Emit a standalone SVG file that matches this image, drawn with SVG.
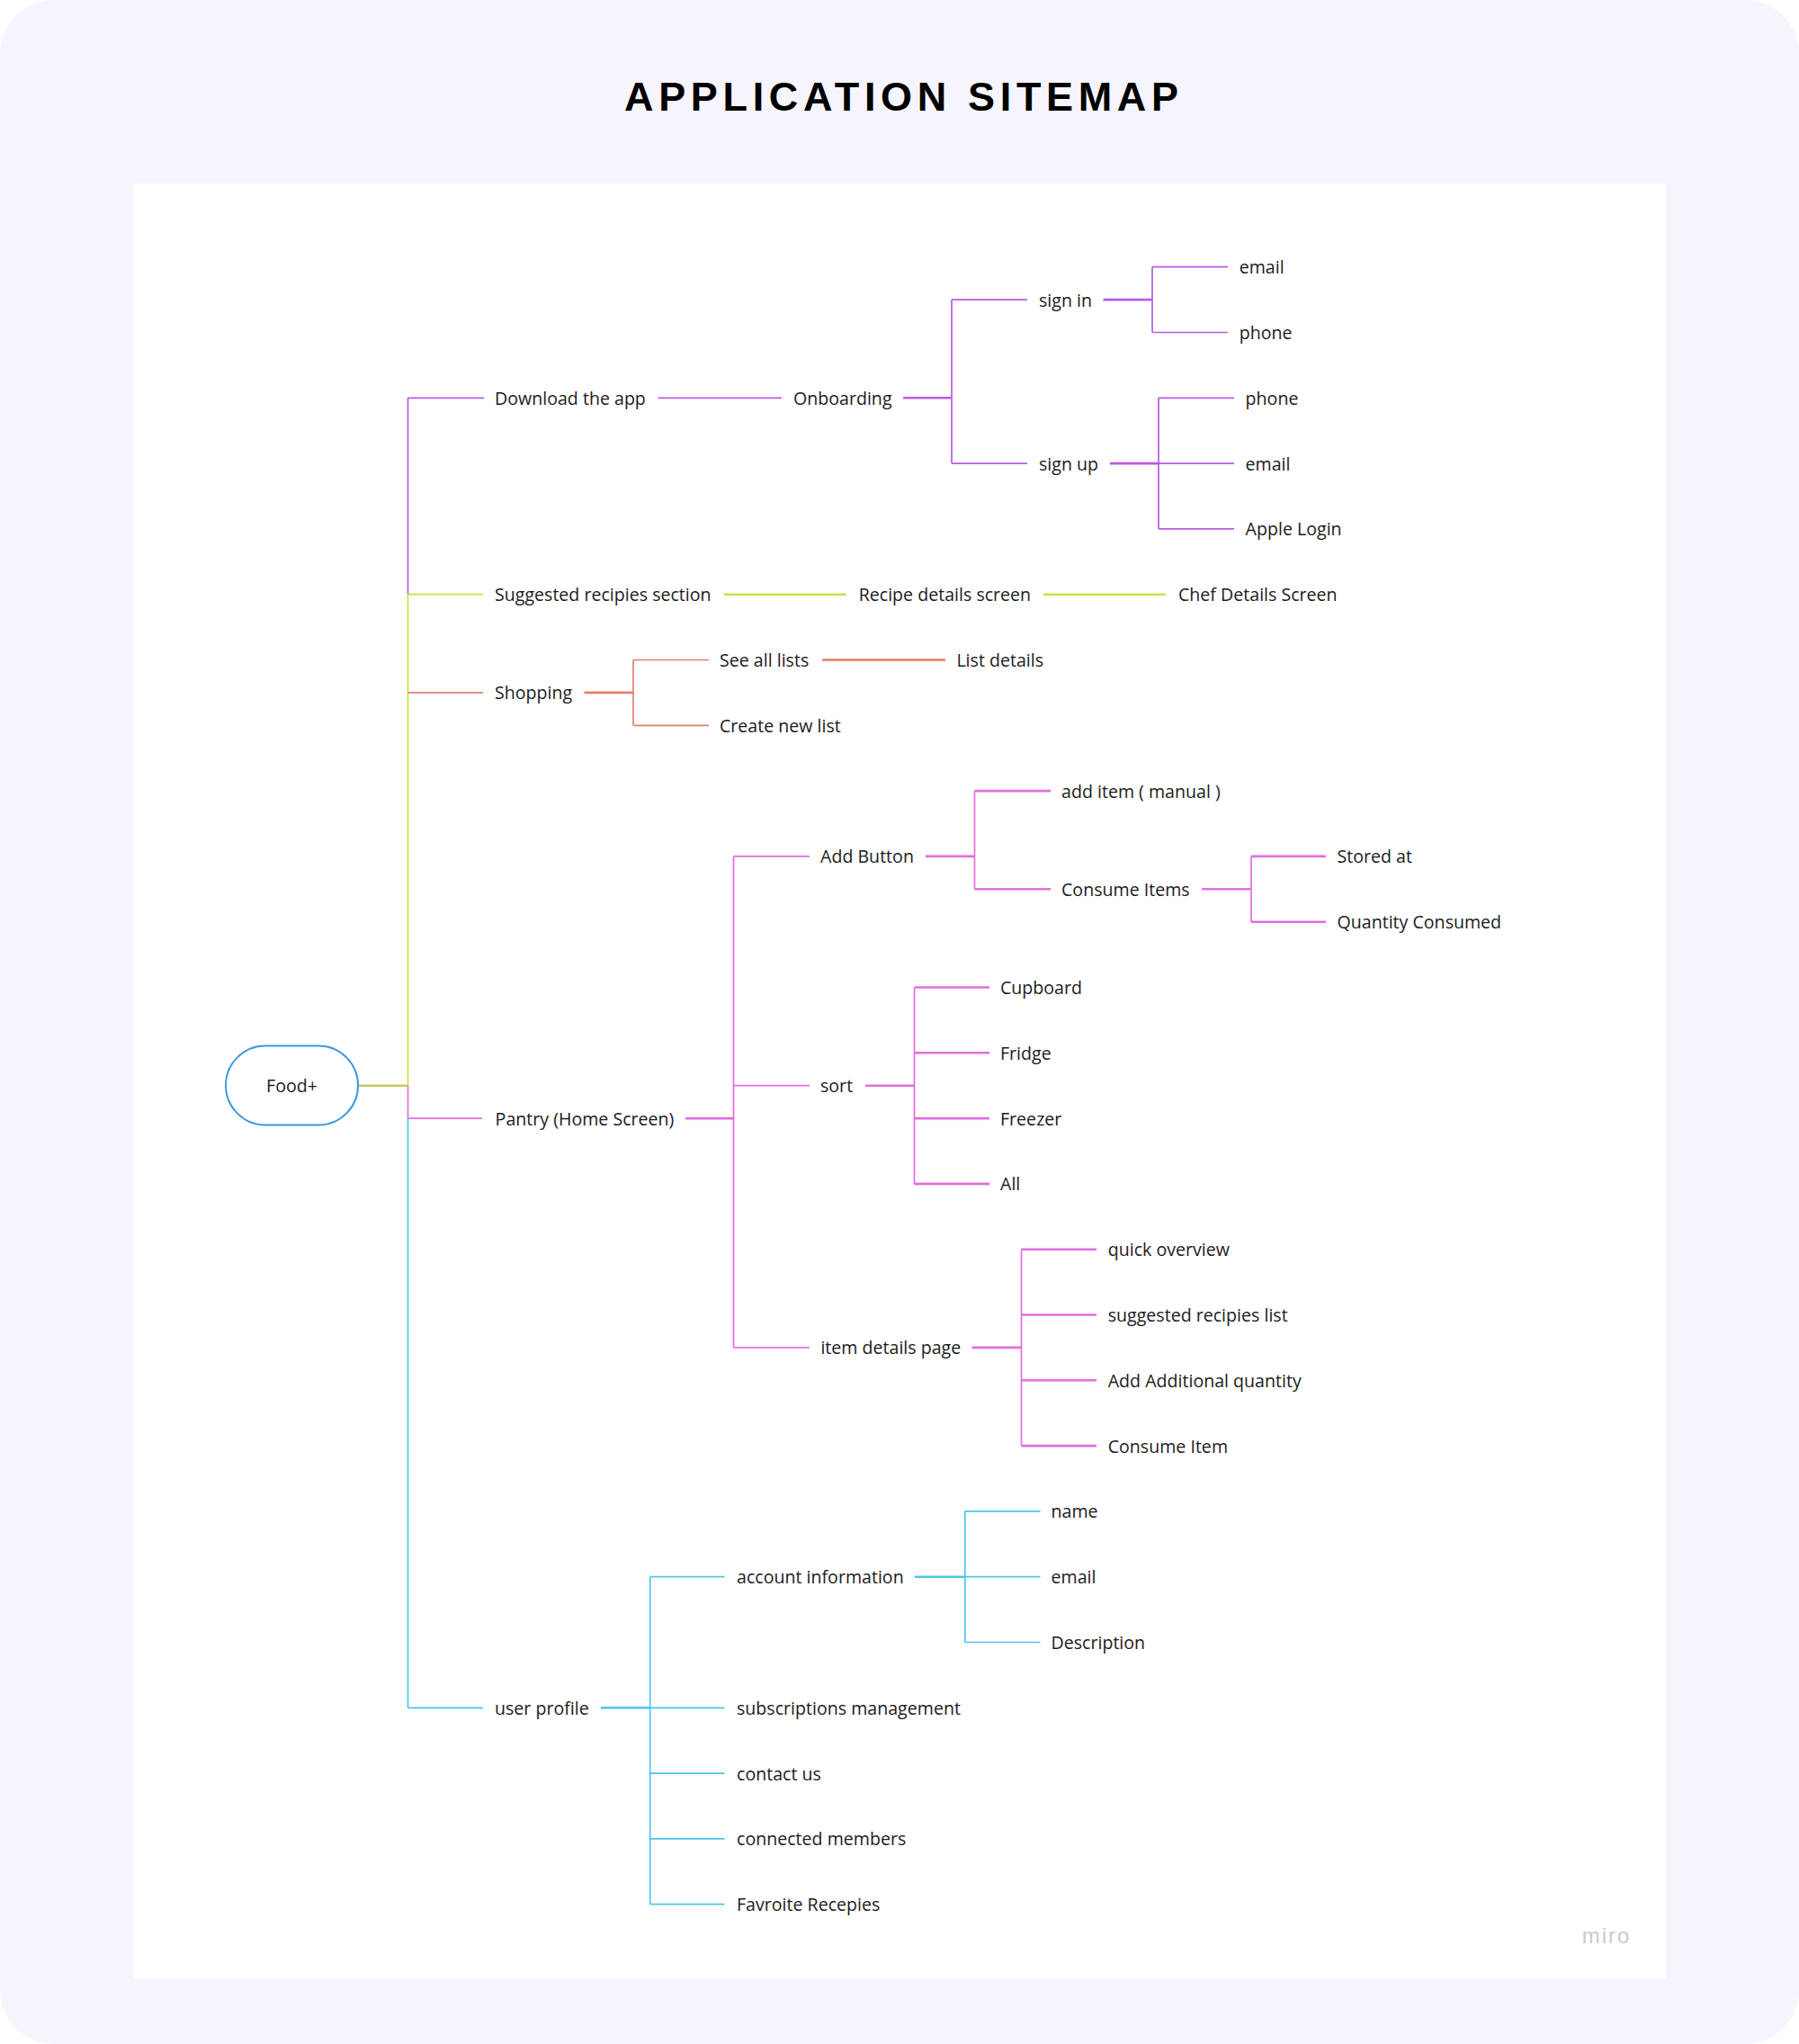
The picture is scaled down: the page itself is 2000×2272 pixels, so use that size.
<svg xmlns="http://www.w3.org/2000/svg" width="2000" height="2272" viewBox="0 0 2000 2272">
<style>
.t{font-family:"Open Sans","Liberation Sans",sans-serif;font-size:19.6px;fill:#1c1c1c}
.c line{fill:none;stroke-linecap:butt}
.pu{stroke:#B95BE6;stroke-width:1.7}
.ye{stroke:#C6E244;stroke-width:1.7}
.sa{stroke:#E47E6C;stroke-width:1.7}
.pk{stroke:#E26FDD;stroke-width:1.7}
.cy{stroke:#4EC6EA;stroke-width:1.7}
.th{stroke-width:2.6}
</style>
<rect x="0" y="0" width="2000" height="2272" fill="#ffffff"/>
<rect x="0" y="0" width="2000" height="2272" rx="60" fill="#F6F5FE"/>
<rect x="148" y="204" width="1704" height="1995" fill="#ffffff"/>
<text x="694" y="123" textLength="616" lengthAdjust="spacing" style="font-family:'Liberation Sans',Arial,sans-serif;font-weight:bold;font-size:45px;fill:#000">APPLICATION SITEMAP</text>
<text x="1786" y="2160" text-anchor="middle" style="font-family:'Liberation Sans',Arial,sans-serif;font-size:24px;fill:#c9c9ce;letter-spacing:2px">miro</text>

<g id="connectors" class="c">
<!-- purple -->
<line class="pu" x1="453.5" y1="442.3" x2="453.5" y2="660.7"/>
<line class="pu" x1="453.5" y1="442.3" x2="538" y2="442.3"/>
<line class="pu" x1="731.5" y1="442.3" x2="869" y2="442.3"/>
<line class="pu th" x1="1004" y1="442.3" x2="1058" y2="442.3"/>
<line class="pu" x1="1058" y1="333.1" x2="1058" y2="515.1"/>
<line class="pu" x1="1058" y1="333.1" x2="1142" y2="333.1"/>
<line class="pu" x1="1058" y1="515.1" x2="1142" y2="515.1"/>
<line class="pu th" x1="1226.5" y1="333.1" x2="1281" y2="333.1"/>
<line class="pu" x1="1281" y1="296.7" x2="1281" y2="369.5"/>
<line class="pu" x1="1281" y1="296.7" x2="1365" y2="296.7"/>
<line class="pu" x1="1281" y1="369.5" x2="1365" y2="369.5"/>
<line class="pu th" x1="1234" y1="515.1" x2="1288" y2="515.1"/>
<line class="pu" x1="1288" y1="442.3" x2="1288" y2="587.9"/>
<line class="pu" x1="1288" y1="442.3" x2="1372" y2="442.3"/>
<line class="pu" x1="1288" y1="515.1" x2="1372" y2="515.1"/>
<line class="pu" x1="1288" y1="587.9" x2="1372" y2="587.9"/>
<!-- yellow -->
<line class="ye" x1="453.5" y1="660.7" x2="453.5" y2="1206.7"/>
<line class="ye" x1="453.5" y1="660.7" x2="537" y2="660.7"/>
<line class="ye th" x1="805" y1="660.7" x2="940.5" y2="660.7"/>
<line class="ye th" x1="1160" y1="660.7" x2="1296" y2="660.7"/>
<line x1="398" y1="1206.7" x2="453.5" y2="1206.7" stroke="#C8C95C" stroke-width="2.6"/>
<!-- salmon -->
<line class="sa" x1="453.5" y1="769.9" x2="537" y2="769.9"/>
<line class="sa th" x1="649.5" y1="769.9" x2="704" y2="769.9"/>
<line class="sa" x1="704" y1="733.5" x2="704" y2="806.3"/>
<line class="sa" x1="704" y1="733.5" x2="788" y2="733.5"/>
<line class="sa" x1="704" y1="806.3" x2="788" y2="806.3"/>
<line class="sa th" x1="914" y1="733.5" x2="1051" y2="733.5"/>
<!-- pink -->
<line class="pk" x1="453.5" y1="1206.7" x2="453.5" y2="1243.1"/>
<line class="pk" x1="453.5" y1="1243.1" x2="536" y2="1243.1"/>
<line class="pk th" x1="762" y1="1243.1" x2="815.5" y2="1243.1"/>
<line class="pk" x1="815.5" y1="951.9" x2="815.5" y2="1497.9"/>
<line class="pk" x1="815.5" y1="951.9" x2="900" y2="951.9"/>
<line class="pk" x1="815.5" y1="1206.7" x2="900" y2="1206.7"/>
<line class="pk" x1="815.5" y1="1497.9" x2="900" y2="1497.9"/>
<line class="pk th" x1="1029" y1="951.9" x2="1083.5" y2="951.9"/>
<line class="pk" x1="1083.5" y1="879.1" x2="1083.5" y2="988.3"/>
<line class="pk th" x1="1083.5" y1="879.1" x2="1168" y2="879.1"/>
<line class="pk th" x1="1083.5" y1="988.3" x2="1168" y2="988.3"/>
<line class="pk th" x1="1336" y1="988.3" x2="1391" y2="988.3"/>
<line class="pk" x1="1391" y1="951.9" x2="1391" y2="1024.7"/>
<line class="pk th" x1="1391" y1="951.9" x2="1474" y2="951.9"/>
<line class="pk th" x1="1391" y1="1024.7" x2="1474" y2="1024.7"/>
<line class="pk th" x1="962" y1="1206.7" x2="1016.5" y2="1206.7"/>
<line class="pk" x1="1016.5" y1="1097.5" x2="1016.5" y2="1315.9"/>
<line class="pk th" x1="1016.5" y1="1097.5" x2="1100" y2="1097.5"/>
<line class="pk th" x1="1016.5" y1="1170.3" x2="1100" y2="1170.3"/>
<line class="pk th" x1="1016.5" y1="1243.1" x2="1100" y2="1243.1"/>
<line class="pk th" x1="1016.5" y1="1315.9" x2="1100" y2="1315.9"/>
<line class="pk th" x1="1080.5" y1="1497.9" x2="1135.5" y2="1497.9"/>
<line class="pk" x1="1135.5" y1="1388.7" x2="1135.5" y2="1607.1"/>
<line class="pk th" x1="1135.5" y1="1388.7" x2="1219" y2="1388.7"/>
<line class="pk th" x1="1135.5" y1="1461.5" x2="1219" y2="1461.5"/>
<line class="pk th" x1="1135.5" y1="1534.3" x2="1219" y2="1534.3"/>
<line class="pk th" x1="1135.5" y1="1607.1" x2="1219" y2="1607.1"/>
<!-- cyan -->
<line class="cy" x1="453.5" y1="1243.1" x2="453.5" y2="1898.3"/>
<line class="cy" x1="453.5" y1="1898.3" x2="537" y2="1898.3"/>
<line class="cy th" x1="668" y1="1898.3" x2="722.7" y2="1898.3"/>
<line class="cy" x1="722.7" y1="1898.3" x2="805.5" y2="1898.3"/>
<line class="cy" x1="722.7" y1="1752.7" x2="722.7" y2="2116.7"/>
<line class="cy" x1="722.7" y1="1752.7" x2="805.5" y2="1752.7"/>
<line class="cy" x1="722.7" y1="1971.1" x2="805.5" y2="1971.1"/>
<line class="cy" x1="722.7" y1="2043.9" x2="805.5" y2="2043.9"/>
<line class="cy" x1="722.7" y1="2116.7" x2="805.5" y2="2116.7"/>
<line class="cy th" x1="1017" y1="1752.7" x2="1072.8" y2="1752.7"/>
<line class="cy" x1="1072.8" y1="1752.7" x2="1156.5" y2="1752.7"/>
<line class="cy" x1="1072.8" y1="1679.9" x2="1072.8" y2="1825.5"/>
<line class="cy" x1="1072.8" y1="1679.9" x2="1156.5" y2="1679.9"/>
<line class="cy" x1="1072.8" y1="1825.5" x2="1156.5" y2="1825.5"/>
</g>

<g id="food"><rect x="251" y="1162.5" width="147" height="88" rx="44" fill="#fff" stroke="#3A98E0" stroke-width="2"/><text class="t" x="324.5" y="1214" text-anchor="middle">Food+</text></g>
<g id="download"><text class="t" x="550" y="449.8">Download the app</text></g>
<g id="onboarding"><text class="t" x="882" y="449.8">Onboarding</text></g>
<g id="signin"><text class="t" x="1155" y="340.6">sign in</text></g>
<g id="signin-email"><text class="t" x="1377.7" y="304.2">email</text></g>
<g id="signin-phone"><text class="t" x="1377.7" y="377">phone</text></g>
<g id="signup"><text class="t" x="1155" y="522.6">sign up</text></g>
<g id="signup-phone"><text class="t" x="1384.6" y="449.8">phone</text></g>
<g id="signup-email"><text class="t" x="1384.6" y="522.6">email</text></g>
<g id="signup-apple"><text class="t" x="1384.6" y="595.4">Apple Login</text></g>
<g id="suggested"><text class="t" x="550" y="668.2">Suggested recipies section</text></g>
<g id="recipe-details"><text class="t" x="954.7" y="668.2">Recipe details screen</text></g>
<g id="chef-details"><text class="t" x="1310" y="668.2">Chef Details Screen</text></g>
<g id="shopping"><text class="t" x="550" y="777.4">Shopping</text></g>
<g id="see-all-lists"><text class="t" x="800" y="741">See all lists</text></g>
<g id="list-details"><text class="t" x="1063.4" y="741">List details</text></g>
<g id="create-new-list"><text class="t" x="800" y="813.8">Create new list</text></g>
<g id="pantry"><text class="t" x="550.6" y="1250.6">Pantry (Home Screen)</text></g>
<g id="add-button"><text class="t" x="912" y="959.4">Add Button</text></g>
<g id="add-item"><text class="t" x="1180" y="886.6">add item ( manual )</text></g>
<g id="consume-items"><text class="t" x="1180" y="995.8">Consume Items</text></g>
<g id="stored-at"><text class="t" x="1486.5" y="959.4">Stored at</text></g>
<g id="quantity-consumed"><text class="t" x="1486.5" y="1032.2">Quantity Consumed</text></g>
<g id="sort"><text class="t" x="912" y="1214.2">sort</text></g>
<g id="cupboard"><text class="t" x="1112" y="1105">Cupboard</text></g>
<g id="fridge"><text class="t" x="1112" y="1177.8">Fridge</text></g>
<g id="freezer"><text class="t" x="1112" y="1250.6">Freezer</text></g>
<g id="all"><text class="t" x="1112" y="1323.4">All</text></g>
<g id="item-details"><text class="t" x="912.4" y="1505.4">item details page</text></g>
<g id="quick-overview"><text class="t" x="1231.7" y="1396.2">quick overview</text></g>
<g id="suggested-list"><text class="t" x="1231.7" y="1469">suggested recipies list</text></g>
<g id="add-quantity"><text class="t" x="1231.7" y="1541.8">Add Additional quantity</text></g>
<g id="consume-item"><text class="t" x="1231.7" y="1614.6">Consume Item</text></g>
<g id="user-profile"><text class="t" x="550" y="1905.8">user profile</text></g>
<g id="account-info"><text class="t" x="819" y="1760.2">account information</text></g>
<g id="name"><text class="t" x="1168.5" y="1687.4">name</text></g>
<g id="acc-email"><text class="t" x="1168.5" y="1760.2">email</text></g>
<g id="description"><text class="t" x="1168.5" y="1833">Description</text></g>
<g id="subscriptions"><text class="t" x="819" y="1905.8">subscriptions management</text></g>
<g id="contact"><text class="t" x="819" y="1978.6">contact us</text></g>
<g id="members"><text class="t" x="819" y="2051.4">connected members</text></g>
<g id="favourites"><text class="t" x="819" y="2124.2">Favroite Recepies</text></g>
</svg>
